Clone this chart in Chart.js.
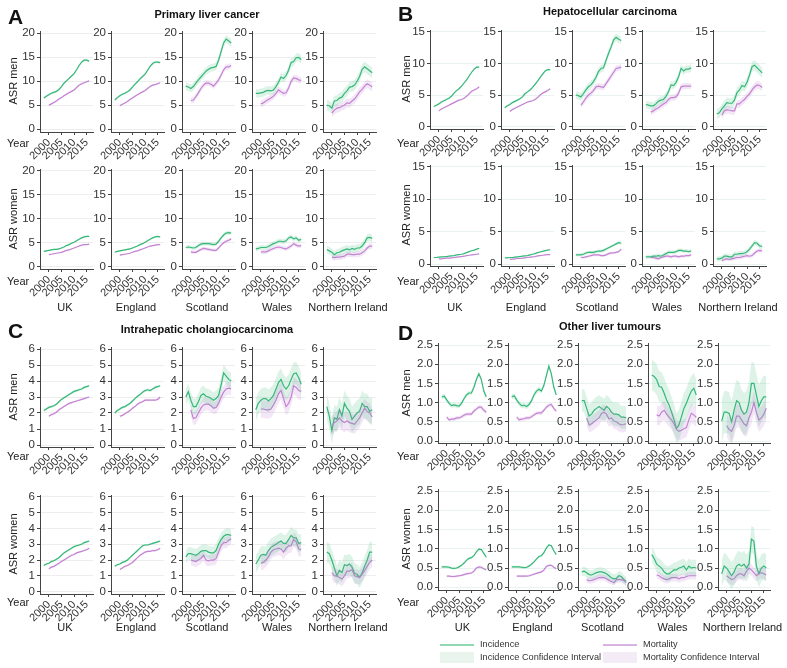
<!DOCTYPE html>
<html><head><meta charset="utf-8">
<script src="https://cdn.jsdelivr.net/npm/chart.js@4/dist/chart.umd.min.js"></script>
<style>
body{margin:0;width:787px;height:668px;position:relative;background:#fff;font-family:"Liberation Sans",Arial,sans-serif;overflow:hidden}
canvas{position:absolute}
.t{position:absolute;white-space:nowrap;color:#222;line-height:1}
</style></head><body>
<script>
// ---------- data ----------
const incYears = [1998,1999,2000,2001,2002,2003,2004,2005,2006,2007,2008,2009,2010,2011,2012,2013,2014,2015,2016];
const mortYears = [2000,2001,2002,2003,2004,2005,2006,2007,2008,2009,2010,2011,2012,2013,2014,2015,2016];
const countries = ["UK","England","Scotland","Wales","Northern Ireland"];
const xTickYears = [2000,2005,2010,2015];
const yTicksPLC = [0,5,10,15,20];
const yTicksHCC = [0,5,10,15];
const yTicksICC = [0,1,2,3,4,5,6];
const yTicksOther = [0,0.5,1,1.5,2,2.5];

// A: Primary liver cancer (UK, England, Scotland, Wales, Northern Ireland)
const pclMenInc = [
 [6.5,6.9,7.2,7.5,7.7,7.9,8.3,8.9,9.6,10.1,10.6,11.1,11.6,12.4,13.3,14.0,14.4,14.4,14.2],
 [6.1,6.6,7.0,7.3,7.5,7.8,8.2,8.8,9.4,9.9,10.5,11.0,11.5,12.3,13.1,13.7,14.0,14.0,13.9],
 [9.0,8.8,8.5,8.9,9.6,10.3,10.9,11.5,12.1,12.5,12.8,12.9,13.1,14.4,16.2,18.0,18.8,18.4,18.0],
 [7.5,7.5,7.6,7.7,8.0,8.1,8.0,8.2,8.9,9.8,10.9,10.6,11.2,12.3,13.9,14.1,14.9,15.0,14.5],
 [5.0,4.9,4.4,5.9,6.0,6.5,6.7,7.5,8.0,8.8,8.9,9.2,10.0,11.0,12.5,13.0,12.6,12.2,11.8]];
const pclMenMort = [
 [5.0,5.3,5.6,5.9,6.3,6.6,7.0,7.3,7.6,7.9,8.2,8.7,9.2,9.5,9.7,9.9,10.1],
 [4.9,5.2,5.5,5.8,6.2,6.5,6.9,7.2,7.5,7.8,8.1,8.5,8.9,9.2,9.3,9.5,9.7],
 [6.0,6.1,6.8,7.6,8.5,9.2,9.6,9.6,9.4,9.0,9.6,10.3,11.3,12.4,13.0,13.0,13.3],
 [5.3,5.5,5.9,6.2,6.5,6.9,7.5,8.2,7.8,7.5,7.6,8.6,10.0,10.7,10.6,10.3,10.2],
 [3.4,4.0,4.4,4.5,4.8,5.0,5.5,5.4,5.9,6.3,7.0,7.8,8.3,9.0,9.5,9.2,8.8]];
const pclWomenInc = [
 [3.2,3.3,3.4,3.5,3.6,3.6,3.7,3.9,4.1,4.4,4.6,4.9,5.1,5.4,5.7,6.0,6.2,6.3,6.3],
 [3.0,3.2,3.3,3.4,3.5,3.6,3.7,3.9,4.1,4.3,4.6,4.8,5.1,5.4,5.7,6.0,6.2,6.3,6.2],
 [4.0,4.1,4.0,3.9,4.0,4.4,4.7,4.8,4.8,4.8,4.7,4.6,4.7,5.3,6.0,6.6,7.0,7.1,7.0],
 [3.7,3.8,4.0,4.0,4.0,4.2,4.5,4.8,5.0,5.3,5.3,5.2,5.4,6.0,6.2,5.8,6.0,5.5,5.7],
 [3.6,3.3,3.0,2.5,2.9,3.0,3.3,3.5,3.7,3.5,3.8,3.6,3.9,3.9,4.3,5.0,6.0,6.1,5.9]];
const pclWomenMort = [
 [2.5,2.6,2.7,2.8,2.9,3.0,3.2,3.4,3.5,3.7,3.9,4.1,4.3,4.5,4.6,4.6,4.7],
 [2.4,2.5,2.6,2.7,2.8,3.0,3.2,3.3,3.5,3.7,3.9,4.1,4.3,4.4,4.5,4.6,4.6],
 [3.1,3.0,3.0,3.3,3.6,3.8,3.7,3.6,3.5,3.4,3.4,3.9,4.5,5.0,5.3,5.5,5.8],
 [3.1,3.1,3.1,3.3,3.6,3.8,4.0,4.1,4.0,3.8,3.7,4.0,4.3,4.8,4.5,4.3,4.4],
 [2.0,1.9,2.0,2.0,2.1,2.2,2.6,2.6,2.5,2.5,2.6,2.6,2.9,3.3,3.9,4.3,4.3]];
const pclMenIncCI = [0.25,0.25,0.8,0.9,1.1];
const pclMenMortCI = [0.2,0.2,0.6,0.7,0.9];
const pclWomenIncCI = [0.15,0.15,0.4,0.5,0.8];
const pclWomenMortCI = [0.12,0.12,0.35,0.45,0.6];

// B: Hepatocellular carcinoma
const hccMenInc = [
 [3.2,3.4,3.6,3.9,4.1,4.3,4.5,4.8,5.3,5.7,6.0,6.4,6.9,7.4,8.0,8.6,9.1,9.4,9.4],
 [3.0,3.3,3.5,3.8,4.0,4.2,4.4,4.7,5.2,5.5,5.8,6.2,6.7,7.2,7.8,8.3,8.8,9.0,9.0],
 [5.0,4.9,4.7,5.2,5.8,6.3,6.6,7.1,7.8,8.7,9.2,9.3,10.5,11.6,12.6,13.7,14.1,13.8,13.6],
 [3.5,3.4,3.3,3.3,3.6,4.0,4.2,4.3,4.8,5.5,6.6,6.5,7.0,7.9,9.2,8.8,9.1,9.1,9.3],
 [2.0,2.2,2.8,3.3,3.8,3.7,3.7,4.2,5.4,5.8,6.5,6.3,7.0,8.2,9.5,9.7,9.3,8.9,8.5]];
const hccMenMort = [
 [2.5,2.8,3.0,3.2,3.4,3.6,3.8,4.0,4.2,4.3,4.5,4.8,5.2,5.6,5.8,6.0,6.3],
 [2.4,2.7,2.9,3.1,3.3,3.5,3.7,3.9,4.0,4.1,4.3,4.6,5.0,5.3,5.5,5.7,6.0],
 [3.4,3.9,4.5,5.0,5.3,5.7,6.3,6.4,6.3,6.2,6.8,7.4,8.0,8.6,9.2,9.3,9.4],
 [2.3,2.5,2.8,3.0,3.3,3.6,3.8,4.3,4.6,4.6,4.7,5.3,6.3,6.4,6.4,6.4,6.4],
 [1.8,2.5,2.7,2.6,2.5,2.5,3.6,3.6,4.0,4.3,4.8,5.2,5.8,6.3,6.6,6.5,6.2]];
const hccWomenInc = [
 [1.0,1.0,1.05,1.1,1.1,1.15,1.2,1.25,1.3,1.4,1.45,1.5,1.6,1.75,1.9,2.05,2.15,2.3,2.4],
 [0.95,0.95,1.0,1.0,1.05,1.1,1.15,1.2,1.25,1.3,1.4,1.5,1.6,1.75,1.85,1.95,2.05,2.15,2.2],
 [1.4,1.4,1.4,1.5,1.7,1.8,1.8,1.8,1.9,2.0,2.0,2.1,2.3,2.5,2.7,2.9,3.1,3.3,3.2],
 [1.1,1.1,1.1,1.2,1.2,1.3,1.2,1.4,1.6,1.8,1.8,1.8,1.9,2.1,2.1,2.0,2.0,1.9,2.0],
 [0.8,0.8,0.9,1.2,1.2,1.1,1.1,1.5,1.5,1.6,1.6,1.7,1.9,2.3,2.8,3.3,3.2,2.8,2.7]];
const hccWomenMort = [
 [0.8,0.8,0.85,0.9,0.9,0.95,1.0,1.05,1.1,1.15,1.2,1.3,1.35,1.4,1.45,1.5,1.55],
 [0.7,0.75,0.8,0.85,0.85,0.9,0.95,1.0,1.05,1.1,1.15,1.25,1.3,1.35,1.4,1.45,1.45],
 [1.0,1.0,1.1,1.2,1.3,1.4,1.4,1.4,1.3,1.3,1.4,1.6,1.7,1.7,1.8,1.9,2.3],
 [1.0,1.0,0.9,0.8,1.0,1.1,1.2,1.2,1.1,1.2,1.2,1.1,1.2,1.2,1.3,1.3,1.4],
 [0.5,0.7,0.8,0.7,0.8,0.9,1.0,1.0,1.1,1.2,1.3,1.2,1.3,1.7,2.0,2.1,2.0]];
const hccMenIncCI = [0.15,0.15,0.6,0.6,0.8];
const hccMenMortCI = [0.12,0.12,0.5,0.5,0.6];
const hccWomenIncCI = [0.06,0.06,0.25,0.3,0.4];
const hccWomenMortCI = [0.05,0.05,0.2,0.25,0.3];

// C: Intrahepatic cholangiocarcinoma
const iccMenInc = [
 [2.15,2.25,2.35,2.4,2.45,2.55,2.7,2.85,2.95,3.05,3.15,3.25,3.35,3.4,3.45,3.5,3.6,3.65,3.7],
 [2.0,2.15,2.25,2.35,2.4,2.5,2.6,2.75,2.9,3.05,3.15,3.3,3.4,3.45,3.4,3.5,3.6,3.65,3.7],
 [3.0,3.33,2.8,2.4,2.4,2.7,3.1,3.2,3.05,3.0,2.9,2.8,2.9,3.1,3.75,4.5,4.3,4.1,4.0],
 [2.2,2.6,2.8,2.9,2.9,2.75,2.9,3.1,3.5,3.9,4.1,3.7,3.5,3.7,4.1,4.45,4.5,4.2,3.8],
 [2.4,1.8,0.9,1.7,1.6,2.2,1.8,2.6,2.3,2.1,1.6,1.8,2.0,2.1,2.6,2.4,2.4,2.1,2.2]];
const iccMenMort = [
 [1.8,1.9,1.95,2.05,2.2,2.3,2.4,2.5,2.6,2.65,2.7,2.75,2.8,2.85,2.9,2.95,3.0],
 [1.8,1.85,1.95,2.05,2.15,2.3,2.4,2.55,2.65,2.7,2.8,2.8,2.8,2.8,2.8,2.85,3.0],
 [2.2,1.65,1.7,2.0,2.3,2.5,2.55,2.55,2.45,2.3,2.35,2.6,3.0,3.3,3.5,3.55,3.5],
 [2.25,2.25,2.2,2.2,2.25,2.5,2.8,3.2,3.4,2.9,2.4,2.6,3.0,3.7,3.6,3.4,3.35],
 [1.2,1.4,1.5,1.7,1.5,1.4,1.5,1.4,1.35,1.3,1.5,1.7,2.0,2.3,2.1,2.0,1.75]];
const iccWomenInc = [
 [1.65,1.75,1.8,1.9,1.95,2.05,2.15,2.3,2.45,2.55,2.65,2.75,2.85,2.9,2.95,3.0,3.1,3.15,3.2],
 [1.6,1.7,1.75,1.85,1.9,2.0,2.15,2.3,2.45,2.6,2.75,2.9,2.95,2.95,3.0,3.05,3.1,3.15,3.2],
 [2.2,2.4,2.4,2.35,2.3,2.4,2.55,2.6,2.6,2.5,2.45,2.45,2.6,3.0,3.3,3.5,3.6,3.6,3.55],
 [1.75,2.0,2.3,2.35,2.3,2.6,2.8,2.9,3.0,3.1,3.2,3.05,3.05,3.3,3.55,3.4,3.4,3.05,3.1],
 [2.5,2.4,2.0,1.5,1.0,1.35,1.2,1.7,1.65,1.75,1.55,1.15,1.1,0.9,1.2,1.6,2.0,2.5,2.5]];
const iccWomenMort = [
 [1.45,1.55,1.6,1.7,1.8,1.9,2.0,2.1,2.2,2.3,2.35,2.45,2.5,2.55,2.6,2.65,2.75],
 [1.4,1.5,1.6,1.65,1.75,1.85,2.0,2.15,2.3,2.4,2.5,2.55,2.55,2.6,2.6,2.65,2.75],
 [2.0,1.95,1.9,2.0,2.1,2.3,2.0,1.95,2.0,2.0,2.1,2.5,2.9,3.1,3.1,3.25,3.35],
 [1.8,1.85,2.0,2.2,2.5,2.65,2.7,2.75,2.7,2.5,2.75,2.9,2.9,3.3,3.15,2.7,2.65],
 [1.2,1.0,1.0,0.9,0.8,1.0,1.3,1.3,1.4,1.0,0.95,0.9,1.1,1.35,1.6,1.85,2.0]];
const iccMenIncCI = [0.08,0.08,0.5,0.7,0.8];
const iccMenMortCI = [0.07,0.07,0.4,0.55,0.6];
const iccWomenIncCI = [0.07,0.07,0.4,0.55,0.65];
const iccWomenMortCI = [0.06,0.06,0.35,0.45,0.45];

// D: Other liver tumours
const othMenInc = [
 [1.14,1.17,1.07,0.98,0.92,0.94,0.92,0.91,0.98,1.1,1.2,1.25,1.25,1.4,1.6,1.75,1.6,1.3,1.15],
 [1.15,1.18,1.07,0.98,0.92,0.93,0.9,0.95,1.05,1.2,1.3,1.35,1.3,1.45,1.7,1.95,1.75,1.4,1.2],
 [1.05,1.05,0.85,0.65,0.7,0.8,0.85,0.9,0.85,0.8,0.9,0.85,0.75,0.7,0.7,0.68,0.62,0.62,0.6],
 [1.72,1.68,1.6,1.42,1.4,1.25,1.07,0.94,0.76,0.55,0.33,0.42,0.63,0.85,0.98,1.15,1.3,1.37,1.2],
 [0.52,0.75,0.75,0.72,0.5,0.8,1.05,1.0,0.8,0.7,0.75,1.0,1.5,1.5,1.2,0.9,1.05,1.15,1.15]];
const othMenMort = [
 [0.62,0.55,0.57,0.57,0.6,0.6,0.63,0.67,0.7,0.7,0.7,0.78,0.83,0.88,0.88,0.8,0.75],
 [0.62,0.55,0.57,0.58,0.6,0.6,0.63,0.68,0.72,0.73,0.73,0.8,0.88,0.93,0.95,0.85,0.78],
 [0.6,0.42,0.45,0.5,0.55,0.6,0.72,0.75,0.7,0.58,0.6,0.52,0.5,0.45,0.42,0.43,0.45],
 [0.68,0.65,0.75,0.8,0.7,0.62,0.55,0.45,0.3,0.25,0.28,0.32,0.35,0.55,0.72,0.68,0.62],
 [0.4,0.3,0.25,0.4,0.65,0.65,0.55,0.45,0.4,0.6,0.75,1.0,0.75,0.55,0.6,0.7,0.85]];
const othWomenInc = [
 [0.53,0.53,0.53,0.52,0.5,0.49,0.5,0.53,0.57,0.63,0.7,0.75,0.77,0.82,0.92,0.99,0.98,0.88,0.78],
 [0.53,0.53,0.53,0.53,0.52,0.51,0.52,0.55,0.6,0.66,0.73,0.8,0.82,0.9,1.02,1.1,1.08,0.95,0.85],
 [0.4,0.42,0.38,0.33,0.32,0.35,0.38,0.4,0.4,0.38,0.35,0.3,0.25,0.22,0.23,0.3,0.28,0.2,0.15],
 [0.85,0.75,0.6,0.55,0.5,0.4,0.35,0.35,0.4,0.45,0.45,0.5,0.52,0.55,0.45,0.55,0.5,0.52,0.5],
 [0.35,0.55,0.5,0.4,0.3,0.4,0.55,0.6,0.55,0.6,0.5,0.6,1.25,1.2,0.55,0.35,0.5,0.55,0.5]];
const othWomenMort = [
 [0.29,0.29,0.28,0.28,0.29,0.3,0.31,0.33,0.35,0.36,0.37,0.42,0.5,0.53,0.52,0.48,0.45],
 [0.29,0.29,0.29,0.29,0.29,0.3,0.32,0.34,0.36,0.38,0.4,0.45,0.54,0.57,0.57,0.52,0.48],
 [0.2,0.17,0.18,0.2,0.23,0.25,0.26,0.25,0.22,0.18,0.15,0.12,0.2,0.2,0.2,0.18,0.12],
 [0.32,0.3,0.25,0.22,0.2,0.22,0.25,0.25,0.25,0.22,0.25,0.25,0.28,0.3,0.3,0.3,0.3],
 [0.3,0.25,0.2,0.22,0.3,0.35,0.35,0.3,0.42,0.5,0.45,0.38,0.3,0.35,0.38,0.35,0.32]];
const othMenIncCI = [0.06,0.07,0.3,0.4,0.55];
const othMenMortCI = [0.05,0.05,0.2,0.25,0.3];
const othWomenIncCI = [0.03,0.03,0.12,0.2,0.35];
const othWomenMortCI = [0.03,0.03,0.08,0.1,0.15];

// ---------- styling / layout ----------
const FONT = '"Liberation Sans", Arial, sans-serif';
const INC = '#35b779', MORT = '#c384d4';
const INC_BAND = 'rgba(53,183,121,0.17)', MORT_BAND = 'rgba(195,132,212,0.2)';
const AXIS = '#444', TXT = '#333';
const colsAC = [40,111,182,252,323], colsB = [430,501,572,642,713], colsD = [438,508,578,648,718];

const rows = [
 {cols:colsAC,w:53,top:33.3,zero:129.3,max:20,ticks:yTicksPLC,inc:pclMenInc,mort:pclMenMort,iCI:pclMenIncCI,mCI:pclMenMortCI,grid:'#ededed',dec:0},
 {cols:colsAC,w:53,top:170.7,zero:266.7,max:20,ticks:yTicksPLC,inc:pclWomenInc,mort:pclWomenMort,iCI:pclWomenIncCI,mCI:pclWomenMortCI,grid:'#ededed',dec:0},
 {cols:colsB,w:53,top:31.7,zero:126.7,max:15,ticks:yTicksHCC,inc:hccMenInc,mort:hccMenMort,iCI:hccMenIncCI,mCI:hccMenMortCI,grid:'#e8f3ef',dec:0},
 {cols:colsB,w:53,top:166.7,zero:264,max:15,ticks:yTicksHCC,inc:hccWomenInc,mort:hccWomenMort,iCI:hccWomenIncCI,mCI:hccWomenMortCI,grid:'#e8f3ef',dec:0},
 {cols:colsAC,w:53,top:349,zero:445,max:6,ticks:yTicksICC,inc:iccMenInc,mort:iccMenMort,iCI:iccMenIncCI,mCI:iccMenMortCI,grid:'#ededed',dec:0},
 {cols:colsAC,w:53,top:496.7,zero:591.7,max:6,ticks:yTicksICC,inc:iccWomenInc,mort:iccWomenMort,iCI:iccWomenIncCI,mCI:iccWomenMortCI,grid:'#ededed',dec:0},
 {cols:colsD,w:52,top:345,zero:441,max:2.5,ticks:yTicksOther,inc:othMenInc,mort:othMenMort,iCI:othMenIncCI,mCI:othMenMortCI,grid:'#e8f3ef',dec:1},
 {cols:colsD,w:52,top:491,zero:587.3,max:2.5,ticks:yTicksOther,inc:othWomenInc,mort:othWomenMort,iCI:othWomenIncCI,mCI:othWomenMortCI,grid:'#e8f3ef',dec:1}
];

function pts(years, vals, off){ return vals.map((v,i)=>({x:years[i], y:v+off})); }

function makeChart(row, ci){
  const L = row.cols[ci], W = row.w;
  const ppu = (row.zero - row.top)/row.max;
  const aTop = Math.round(row.top - 0.02*row.max*ppu);
  const aBot = Math.round(row.zero + 0.025*row.max*ppu);
  const yMax = (row.zero - aTop)/ppu, yMin = -(aBot - row.zero)/ppu;
  const padL = 40, padT = 10, padR = 14, padB = 42;
  const cw = W + padL + padR, ch = (aBot - aTop) + padT + padB;
  const cv = document.createElement('canvas');
  cv.width = cw; cv.height = ch;
  cv.style.left = (L - padL) + 'px'; cv.style.top = (aTop - padT) + 'px';
  cv.style.width = cw + 'px'; cv.style.height = ch + 'px';
  document.body.appendChild(cv);
  const inc = row.inc[ci], mort = row.mort[ci], iw = row.iCI[ci], mw = row.mCI[ci];
  const band = {borderWidth:0, pointRadius:0, borderColor:'rgba(0,0,0,0)'};
  new Chart(cv, {
    type:'line',
    data:{datasets:[
      Object.assign({data:pts(incYears,inc,-iw), fill:false}, band),
      Object.assign({data:pts(incYears,inc,iw), fill:'-1', backgroundColor:INC_BAND}, band),
      Object.assign({data:pts(mortYears,mort,-mw), fill:false}, band),
      Object.assign({data:pts(mortYears,mort,mw), fill:'-1', backgroundColor:MORT_BAND}, band),
      {data:pts(mortYears,mort,0), borderColor:MORT, borderWidth:1.2, pointRadius:0, fill:false},
      {data:pts(incYears,inc,0), borderColor:INC, borderWidth:1.2, pointRadius:0, fill:false}
    ]},
    options:{
      responsive:false, animation:false, devicePixelRatio:1,
      layout:{padding:{top:padT,right:padR,left:0,bottom:0}},
      plugins:{legend:{display:false}, tooltip:{enabled:false}},
      elements:{line:{tension:0}},
      scales:{
        x:{type:'linear', min:1996.5, max:2017.5,
           afterFit:s=>{s.height=padB;},
           afterBuildTicks:s=>{s.ticks=xTickYears.map(v=>({value:v}));},
           grid:{display:true, drawOnChartArea:false, drawTicks:true, tickLength:3, tickColor:AXIS, color:AXIS},
           border:{display:true, color:AXIS, width:1},
           ticks:{autoSkip:false, maxRotation:45, minRotation:45, padding:1, color:TXT, font:{size:11, family:FONT}, callback:v=>String(v)}},
        y:{type:'linear', min:yMin, max:yMax,
           afterFit:s=>{s.width=padL;},
           afterBuildTicks:s=>{s.ticks=row.ticks.map(v=>({value:v}));},
           grid:{color:row.grid, lineWidth:1, drawTicks:true, tickLength:3, tickColor:AXIS},
           border:{display:true, color:AXIS, width:1},
           ticks:{autoSkip:false, padding:2, color:TXT, font:{size:11.5, family:FONT}, callback:v=>row.dec? Number(v).toFixed(1) : String(v)}}
      }
    }
  });
}
rows.forEach(r=>{ for(let c=0;c<5;c++) makeChart(r,c); });

// ---------- text ----------
function txt(s, x, y, css, anchor){
  const d = document.createElement('div');
  d.className = 't'; d.textContent = s;
  d.style.left = x + 'px'; d.style.top = y + 'px';
  Object.assign(d.style, css||{});
  d.style.transform = anchor || 'translate(0,-50%)';
  document.body.appendChild(d);
  return d;
}
const big = {fontSize:'21px', fontWeight:'bold', color:'#111'};
txt('A', 8, 16, big); txt('B', 398, 13, big); txt('C', 8, 330, big); txt('D', 398, 332, big);
const ttl = {fontSize:'11px', fontWeight:'bold', color:'#111'};
const C = 'translate(-50%,-50%)';
txt('Primary liver cancer', 207, 14, ttl, C);
txt('Hepatocellular carcinoma', 610, 11, ttl, C);
txt('Intrahepatic cholangiocarcinoma', 207, 329, ttl, C);
txt('Other liver tumours', 610, 326, ttl, C);
const lab = {fontSize:'11px', color:'#222'};
const R = 'translate(-50%,-50%) rotate(-90deg)';
rows.forEach((r,i)=>{
  const cx = (r.cols === colsAC) ? 13 : 406;
  txt(i%2===0 ? 'ASR men' : 'ASR women', cx, (r.top + r.zero)/2, lab, R);
});
[[7,143],[7,281],[397,143],[397,281],[7,456],[7,602],[397,456],[397,602]].forEach(p=>txt('Year', p[0], p[1], lab));
[[colsAC,53,307],[colsB,53,307],[colsAC,53,627],[colsD,52,627]].forEach(g=>{
  countries.forEach((n,i)=>txt(n, g[0][i] + g[1]/2 - 1.5, g[2], lab, C));
});
// legend
function box(x,y,w,h,bg){ const d=document.createElement('div'); Object.assign(d.style,{position:'absolute',left:x+'px',top:y+'px',width:w+'px',height:h+'px',background:bg}); document.body.appendChild(d); }
box(440,644,34,2,'#8fd9b2'); box(440,652,34,11,'#e9f4ec');
box(603,644,34,2,'#d9b4e3'); box(603,652,34,11,'#f3ebf6');
const lg = {fontSize:'9.2px', color:'#333'};
txt('Incidence', 480, 645, lg); txt('Incidence Confidence Interval', 480, 657.5, lg);
txt('Mortality', 643, 645, lg); txt('Mortality Confidence Interval', 643, 657.5, lg);
</script></body></html>
